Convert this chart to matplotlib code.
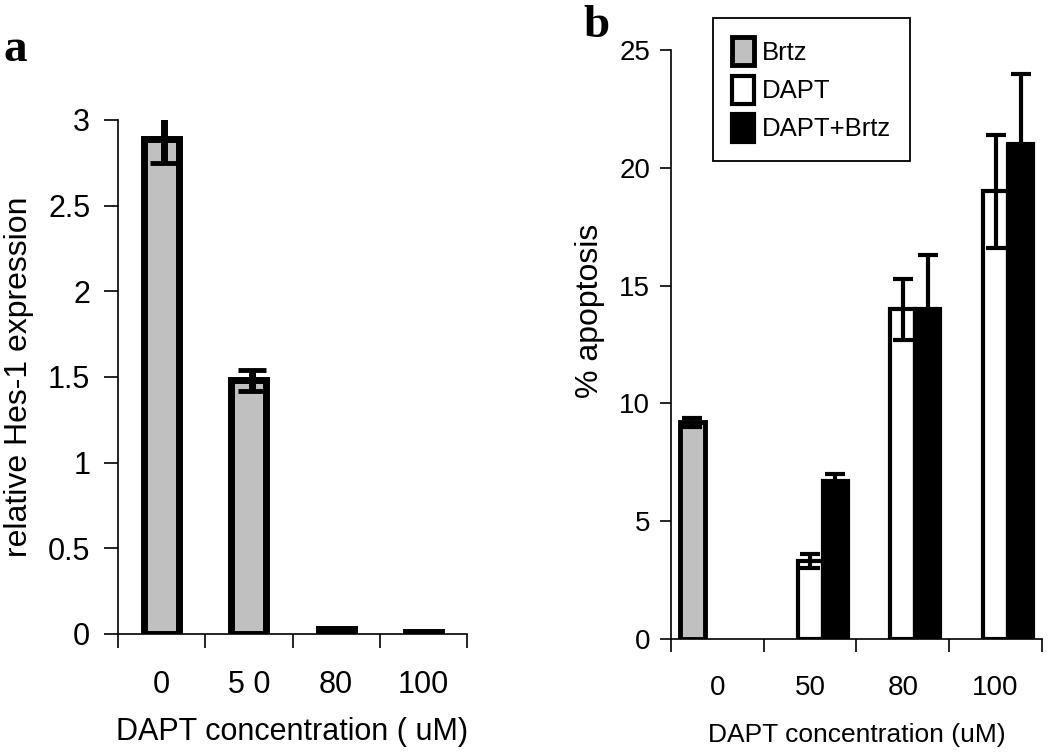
import numpy as np
import matplotlib.pyplot as plt
from matplotlib.patches import Patch

plt.rcParams['font.family'] = ['Liberation Sans', 'DejaVu Sans']

# panel a: relative Hes-1 expression
conc_a = ['0', '5 0', '80', '100']
hes1 = [2.89, 1.48, 0.03, 0.01]
hes1_err = [0.14, 0.06, np.nan, np.nan]

# panel b: % apoptosis (nan = no bar)
conc_b = ['0', '50', '80', '100']
brtz = [9.2, np.nan, np.nan, np.nan]
brtz_err = [0.2, np.nan, np.nan, np.nan]
dapt = [np.nan, 3.3, 14.0, 19.0]
dapt_err = [np.nan, 0.3, 1.3, 2.4]
dapt_brtz = [np.nan, 6.7, 14.0, 21.0]
dapt_brtz_err = [np.nan, 0.3, 2.3, 3.0]

GRAY = '#c0c0c0'

fig = plt.figure(figsize=(10.5, 7.55), dpi=100)
ax1 = fig.add_axes([0.1124, 0.1603, 0.3324, 0.6808])
ax2 = fig.add_axes([0.639, 0.1536, 0.3533, 0.7801])

# ---- panel a ----
x = np.arange(len(conc_a))
ax1.bar(x, hes1, width=0.4, color=GRAY, edgecolor='black', linewidth=5, zorder=2)
ax1.errorbar(x + 0.03, hes1, yerr=hes1_err, fmt='none', ecolor='black',
             elinewidth=5, capsize=10, capthick=3.5, zorder=3)
ax1.set_ylim(0, 3)
ax1.set_xlim(-0.5, 3.5)
ax1.set_yticks([0, 0.5, 1, 1.5, 2, 2.5, 3])
ax1.set_yticklabels(['0', '0.5', '1', '1.5', '2', '2.5', '3'])
ax1.set_xticks(np.arange(-0.5, 4, 1))
ax1.set_xticklabels([])
ax1.set_xticks(x, minor=True)
ax1.set_xticklabels(conc_a, minor=True)
ax1.tick_params(axis='y', length=10, width=1.2, pad=10, labelsize=22)
ax1.tick_params(axis='x', which='major', length=10, width=1.2)
ax1.tick_params(axis='x', which='minor', length=0, pad=26, labelsize=22)
ax1.set_xlabel('DAPT concentration ( uM)', fontsize=22, labelpad=12)
ax1.set_ylabel('relative Hes-1 expression', fontsize=23, labelpad=10)
for s in ['top', 'right']:
    ax1.spines[s].set_visible(False)
for s in ['left', 'bottom']:
    ax1.spines[s].set_linewidth(1.2)

# ---- panel b ----
w = 0.27
x = np.arange(len(conc_b))
ax2.bar(x - w, brtz, width=w, color=GRAY, edgecolor='black', linewidth=3.5, zorder=2)
ax2.bar(x, dapt, width=w, color='white', edgecolor='black', linewidth=3, zorder=2)
ax2.bar(x + w, dapt_brtz, width=w, color='black', edgecolor='black', linewidth=3, zorder=2)
ax2.errorbar(x - w, brtz, yerr=brtz_err, fmt='none', ecolor='black',
             elinewidth=3, capsize=7, capthick=3, zorder=3)
ax2.errorbar(x, dapt, yerr=dapt_err, fmt='none', ecolor='black',
             elinewidth=3, capsize=7, capthick=3, zorder=3)
ax2.errorbar(x + w, dapt_brtz, yerr=dapt_brtz_err, fmt='none', ecolor='black',
             elinewidth=3, capsize=7, capthick=3, zorder=3)
ax2.set_ylim(0, 25)
ax2.set_xlim(-0.5, 3.5)
ax2.set_yticks([0, 5, 10, 15, 20, 25])
ax2.set_xticks(np.arange(-0.5, 4, 1))
ax2.set_xticklabels([])
ax2.set_xticks(x, minor=True)
ax2.set_xticklabels(conc_b, minor=True)
ax2.tick_params(axis='y', length=8, width=1.2, pad=7, labelsize=20)
ax2.tick_params(axis='x', which='major', length=9, width=1.2)
ax2.tick_params(axis='x', which='minor', length=0, pad=26, labelsize=20)
ax2.set_xlabel('DAPT concentration (uM)', fontsize=19, labelpad=16)
ax2.set_ylabel('% apoptosis', fontsize=23)
ax2.yaxis.set_label_coords(-0.178, 0.557)
for s in ['top', 'right']:
    ax2.spines[s].set_visible(False)
for s in ['left', 'bottom']:
    ax2.spines[s].set_linewidth(1.2)

handles = [Patch(facecolor=GRAY, edgecolor='black', linewidth=3.5),
           Patch(facecolor='white', edgecolor='black', linewidth=3),
           Patch(facecolor='black', edgecolor='black', linewidth=3)]
leg = fig.legend(handles, ['Brtz', 'DAPT', 'DAPT+Brtz'], loc='upper left',
                 bbox_to_anchor=(713 / 1050, 1 - 18 / 755), bbox_transform=fig.transFigure,
                 borderaxespad=0, fontsize=18.5, handlelength=0.85, handleheight=1.3,
                 handletextpad=0.3, labelspacing=0.4, borderpad=0.75,
                 fancybox=False, framealpha=1)
leg.get_frame().set_edgecolor('black')
leg.get_frame().set_linewidth(1.3)

fig.text(0.003, 1 - 61 / 755, 'a', fontsize=34, fontweight='bold',
         family='Liberation Serif', va='baseline')
fig.text(583 / 1050, 1 - 37 / 755, 'b', fontsize=34, fontweight='bold',
         family='Liberation Serif', va='baseline')

fig.savefig('out.png', dpi=100)
